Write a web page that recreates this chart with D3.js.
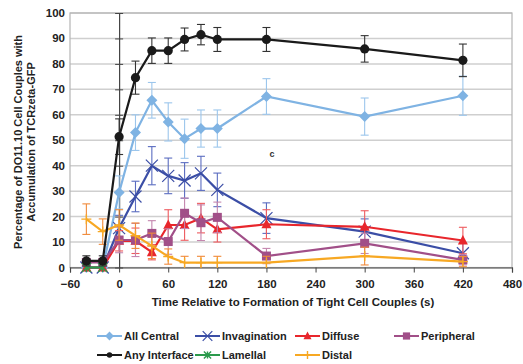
<!DOCTYPE html>
<html>
<head>
<meta charset="utf-8">
<script src="https://cdn.jsdelivr.net/npm/d3@7"></script>
<style>
  body { margin: 0; background: #fff; }
  svg text { font-family: "Liberation Sans", Arial, sans-serif; }
</style>
</head>
<body>
<div id="chart"></div>
<script>
// Data
const times = [-40, -20, 0, 20, 40, 60, 80, 100, 120, 180, 300, 420];
const xTicks = [-60, 0, 60, 120, 180, 240, 300, 360, 420, 480];
const yTicks = [0, 10, 20, 30, 40, 50, 60, 70, 80, 90, 100];

const allCentral = [0, 0, 29.5, 53, 65.7, 57.2, 50.6, 54.6, 54.6, 67.2, 59.3, 67.5];
const allCentralErr = [0, 0, 6.5, 7, 7, 7.5, 7.7, 7.3, 7.3, 7, 7.3, 7.7];
const invagination = [0, 0, 15.5, 27.9, 40, 36, 34.2, 37, 30.5, 19.4, 14.1, 5.6];
const invaginationErr = [0, 0, 5, 6, 7.5, 7, 7, 6.7, 6.6, 6, 5, 4];
const diffuse = [0, 0, 10.5, 10.5, 6, 16.7, 16.7, 19.4, 15, 17, 16, 10.6];
const diffuseErr = [0, 0, 4, 5, 3, 6, 6, 5.8, 5, 5.7, 6.3, 5.2];
const peripheral = [2, 2, 10.8, 10.8, 13.4, 10.2, 21.3, 17.6, 19.7, 4.5, 9.5, 3];
const peripheralErr = [0, 0, 5, 6.5, 5, 5, 6, 7, 6, 3, 4, 2];
const anyInterface = [2.6, 2.6, 51.4, 74.6, 85.2, 85.2, 89.6, 91.5, 89.6, 89.6, 85.9, 81.4];
const anyInterfaceErr = [2, 2, 7, 6.5, 5, 5, 4.5, 4, 4.7, 4.7, 5.2, 6.4];
const lamellal = [0, 0, null, null, null, null, null, null, null, null, null, null];
const lamellalErr = [0, 0, 0, 0, 0, 0, 0, 0, 0, 0, 0, 0];
const distal = [19, 14.1, 16.7, 12.5, 8.5, 4.3, 1.9, 1.9, 1.9, 1.9, 4.5, 2.3];
const distalErr = [6, 5, 6, 5, 5, 3, 2.5, 2.5, 2.5, 2.5, 3.5, 2];

const series = [
  { name: 'All Central', values: allCentral, err: allCentralErr, color: '#7fb3e3', errColor: '#9cc6ec', marker: 'diamond' },
  { name: 'Invagination', values: invagination, err: invaginationErr, color: '#3b4ea6', errColor: '#5a6cc0', marker: 'x' },
  { name: 'Diffuse', values: diffuse, err: diffuseErr, color: '#e8262c', errColor: '#ee5a5e', marker: 'triangle' },
  { name: 'Peripheral', values: peripheral, err: peripheralErr, color: '#a14f88', errColor: '#c486ae', marker: 'square' },
  { name: 'Lamellal', values: lamellal, err: lamellalErr, color: '#2b9a4c', errColor: '#2b9a4c', marker: 'asterisk' },
  { name: 'Distal', values: distal, err: distalErr, color: '#f7a823', errColor: '#f08a3a', marker: 'plus' },
  { name: 'Any Interface', values: anyInterface, err: anyInterfaceErr, color: '#1a1a1a', errColor: '#333', marker: 'circle' }
];

const legendRows = [
  ['All Central', 'Invagination', 'Diffuse', 'Peripheral'],
  ['Any Interface', 'Lamellal', 'Distal']
];

const width = 523, height = 364;
const svg = d3.select('#chart').append('svg')
  .attr('width', width)
  .attr('height', height);

const x = d3.scaleLinear().domain([-60, 480]).range([70, 512]);
const y = d3.scaleLinear().domain([0, 100]).range([267.5, 13]);

// Gridlines
svg.append('g')
  .selectAll('line')
  .data(yTicks.slice(1))
  .join('line')
  .attr('x1', x(-60)).attr('x2', x(480))
  .attr('y1', d => y(d)).attr('y2', d => y(d))
  .attr('stroke', '#cfcfcf')
  .attr('stroke-width', 1.5);

// Plot border
svg.append('rect')
  .attr('x', x(-60)).attr('y', y(100))
  .attr('width', x(480) - x(-60))
  .attr('height', y(0) - y(100))
  .attr('fill', 'none')
  .attr('stroke', '#b5b5b5')
  .attr('stroke-width', 1.2);

// Y axis at x = 0
const yAxis = svg.append('g')
  .attr('transform', `translate(${x(0)},0)`)
  .call(d3.axisLeft(y).tickValues(yTicks).tickSize(0).tickFormat(''));
yAxis.select('.domain').attr('stroke', '#444').attr('stroke-width', 1.2);
yAxis.selectAll('.tick').append('line')
  .attr('x1', -4).attr('x2', 4)
  .attr('stroke', '#444');

// Y tick labels at left of plot
svg.append('g')
  .selectAll('text')
  .data(yTicks)
  .join('text')
  .attr('x', 65)
  .attr('y', d => y(d))
  .attr('dy', '0.35em')
  .attr('text-anchor', 'end')
  .style('font-size', '11.5px')
  .style('font-weight', 'bold')
  .attr('fill', '#222')
  .text(d => d);

// X axis at y = 0
const xAxis = svg.append('g')
  .attr('transform', `translate(0,${y(0)})`)
  .call(d3.axisBottom(x).tickValues(xTicks).tickSize(5).tickPadding(7));
xAxis.select('.domain').attr('stroke', '#444').attr('stroke-width', 1.2);
xAxis.selectAll('.tick line').attr('stroke', '#444');
xAxis.selectAll('.tick text')
  .style('font-size', '11.5px')
  .style('font-weight', 'bold')
  .style('font-family', '"Liberation Sans", Arial, sans-serif')
  .attr('fill', '#222');

// Axis titles
svg.append('text')
  .attr('x', 293).attr('y', 306)
  .attr('text-anchor', 'middle')
  .style('font-size', '11.5px')
  .style('font-weight', 'bold')
  .attr('fill', '#222')
  .text('Time Relative to Formation of Tight Cell Couples (s)');

const yTitle = svg.append('text')
  .attr('transform', 'translate(22,142) rotate(-90)')
  .attr('text-anchor', 'middle')
  .style('font-size', '11px')
  .style('font-weight', 'bold')
  .attr('fill', '#222');
yTitle.append('tspan').attr('x', 0).attr('dy', 0).text('Percentage of DO11.10 Cell Couples with');
yTitle.append('tspan').attr('x', 0).attr('dy', 13).text('Accumulation of TCRzeta-GFP');

svg.append('text')
  .attr('x', 272).attr('y', 157)
  .attr('text-anchor', 'middle')
  .style('font-size', '9px')
  .style('font-weight', 'bold')
  .attr('fill', '#333')
  .text('c');

// Marker drawing
function drawMarker(g, type, color, s) {
  if (type === 'circle') {
    g.append('circle').attr('r', 4.6 * s).attr('fill', color);
  } else if (type === 'diamond') {
    g.append('path').attr('d', `M0,${-5.5 * s}L${5.5 * s},0L0,${5.5 * s}L${-5.5 * s},0Z`).attr('fill', color);
  } else if (type === 'square') {
    g.append('rect').attr('x', -4.5 * s).attr('y', -4.5 * s).attr('width', 9 * s).attr('height', 9 * s).attr('fill', color);
  } else if (type === 'triangle') {
    g.append('path').attr('d', `M0,${-5.5 * s}L${5 * s},${4 * s}L${-5 * s},${4 * s}Z`).attr('fill', color);
  } else if (type === 'x') {
    const r = 6 * s;
    g.append('path').attr('d', `M${-r},${-r}L${r},${r}M${-r},${r}L${r},${-r}`)
      .attr('stroke', color).attr('stroke-width', 1.2);
  } else if (type === 'asterisk') {
    const r = 4.5 * s;
    g.append('path').attr('d', `M${-r},${-r}L${r},${r}M${-r},${r}L${r},${-r}M0,${-r}L0,${r}`)
      .attr('stroke', color).attr('stroke-width', 1.4);
  } else if (type === 'plus') {
    const r = 5 * s;
    g.append('path').attr('d', `M${-r},0L${r},0M0,${-r}L0,${r}`)
      .attr('stroke', color).attr('stroke-width', 1.4);
  }
}

const line = d3.line()
  .defined(d => d[1] !== null)
  .x(d => x(d[0]))
  .y(d => y(d[1]));

series.forEach(s => {
  const pts = times.map((t, i) => [t, s.values[i], s.err[i]]);
  const valid = pts.filter(d => d[1] !== null);
  const g = svg.append('g');

  // Error bars
  const eb = g.append('g').attr('stroke', s.errColor).attr('stroke-width', 1.1);
  valid.filter(d => d[2] > 0).forEach(d => {
    const cx = x(d[0]);
    const y1 = y(Math.min(100, d[1] + d[2]));
    const y2 = y(Math.max(0, d[1] - d[2]));
    eb.append('line').attr('x1', cx).attr('x2', cx).attr('y1', y1).attr('y2', y2);
    eb.append('line').attr('x1', cx - 4).attr('x2', cx + 4).attr('y1', y1).attr('y2', y1);
    if (d[1] - d[2] > 0) {
      eb.append('line').attr('x1', cx - 4).attr('x2', cx + 4).attr('y1', y2).attr('y2', y2);
    }
  });

  g.append('path')
    .datum(pts)
    .attr('d', line)
    .attr('fill', 'none')
    .attr('stroke', s.color)
    .attr('stroke-width', 2.2);

  valid.forEach(d => {
    const m = g.append('g').attr('transform', `translate(${x(d[0])},${y(d[1])})`);
    drawMarker(m, s.marker, s.color, 1);
  });
});

// Legend
const colX = [97, 195, 295, 394];
const rowY = [336, 355];
legendRows.forEach((row, r) => {
  row.forEach((name, c) => {
    const s = series.find(d => d.name === name);
    const g = svg.append('g').attr('transform', `translate(${colX[c]},${rowY[r]})`);
    g.append('line').attr('x1', 0).attr('x2', 25).attr('stroke', s.color).attr('stroke-width', 2);
    const m = g.append('g').attr('transform', 'translate(12.5,0)');
    drawMarker(m, s.marker, s.color, s.marker === 'circle' ? 0.6 : 0.8);
    g.append('text')
      .attr('x', 27).attr('dy', '0.35em')
      .style('font-size', '11px')
      .style('font-weight', 'bold')
      .attr('fill', '#222')
      .text(name);
  });
});
</script>
</body>
</html>
